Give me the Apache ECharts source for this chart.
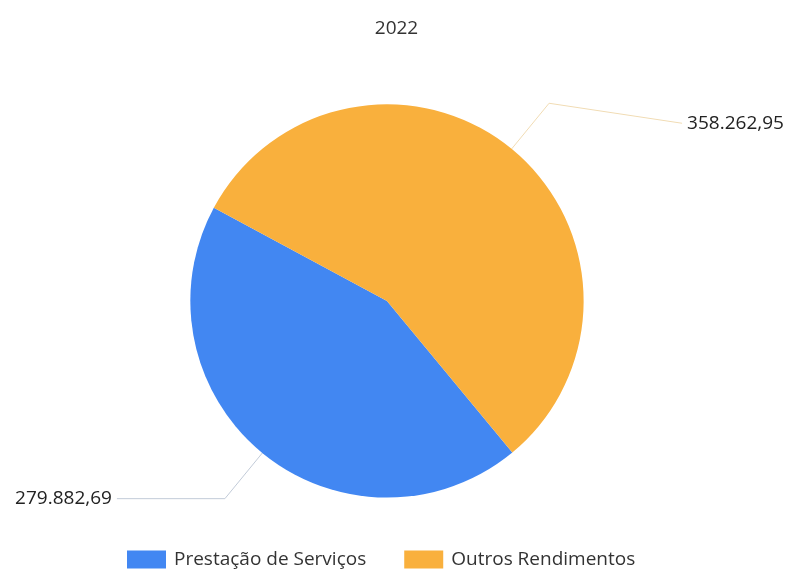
<!DOCTYPE html>
<html>
<head>
<meta charset="utf-8">
<script src="https://cdn.jsdelivr.net/npm/echarts@6/dist/echarts.min.js"></script>
<style>
  html, body { margin: 0; padding: 0; background: #fff; }
  #chart { width: 793px; height: 570px; }
</style>
</head>
<body>
<div id="chart"></div>
<script>
// dados do gráfico
var titulo = '2022';
var categorias = ['Prestação de Serviços', 'Outros Rendimentos'];
var valores = [279882.69, 358262.95];
var cores = ['#4287f2', '#f9b03d'];
var coresLinha = ['#c2cbd8', '#f1dcb4'];

function fmt(v) {
  var p = v.toFixed(2).split('.');
  return p[0].replace(/\B(?=(\d{3})+(?!\d))/g, '.') + ',' + p[1];
}

var chart = echarts.init(document.getElementById('chart'));

var dados = [];
for (var i = 0; i < categorias.length; i++) {
  dados.push({
    name: categorias[i],
    value: valores[i],
    itemStyle: { color: cores[i] },
    labelLine: { lineStyle: { color: coresLinha[i], width: 1 } }
  });
}

var option = {
  textStyle: { fontFamily: 'Open Sans' },
  title: {
    text: titulo,
    left: 'center',
    top: 14,
    textStyle: { fontSize: 19, fontWeight: 'normal', color: '#333', fontFamily: 'Open Sans' }
  },
  legend: {
    top: 545,
    left: 122,
    itemWidth: 39,
    itemHeight: 18,
    itemGap: 38,
    icon: 'rect',
    textStyle: { fontSize: 19, color: '#333', fontFamily: 'Open Sans', padding: [0, 0, 0, 3] },
    data: categorias
  },
  series: [{
    type: 'pie',
    center: ['48.8%', '52.8%'],
    radius: '69%',
    startAngle: -50.4,
    clockwise: true,
    animation: false,
    label: {
      formatter: function (p) { return fmt(p.value); },
      fontSize: 19,
      color: '#222',
      fontFamily: 'Open Sans'
    },
    labelLine: { length: 59, length2: 108, smooth: false },
    labelLayout: function (p) {
      if (p.dataIndex === 1 && p.labelLinePoints) {
        var pts = p.labelLinePoints;
        return {
          dy: 20,
          labelLinePoints: [pts[0], pts[1], [pts[2][0] + 25, pts[2][1] + 20]],
          dx: 25
        };
      }
    },
    data: dados
  }]
};

chart.setOption(option);
window.addEventListener('resize', function () { chart.resize(); });
</script>
</body>
</html>
